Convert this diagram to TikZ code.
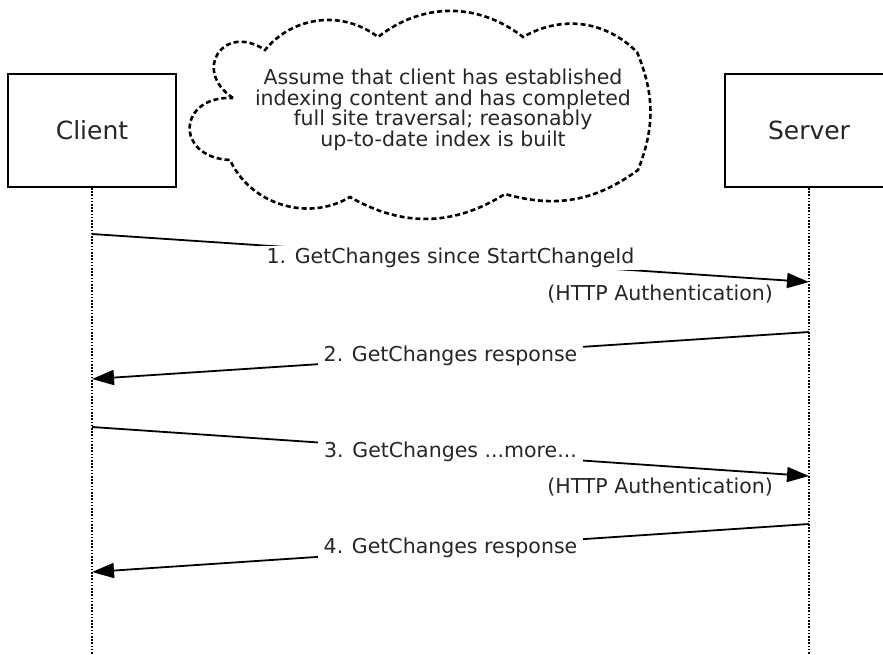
\documentclass[tikz,border=0pt]{standalone}
\usepackage{fontspec}
\setmainfont{DejaVu Sans}
\usetikzlibrary{arrows.meta}

\tikzset{
  actor/.style={draw, line width=1.8pt, minimum width=168pt, minimum height=113pt, font=\fontsize{25}{30}\selectfont, text=black!85},
  lifeline/.style={line width=1.1pt, dash pattern=on 1.6pt off 1.6pt},
  msg/.style={line width=1.8pt, -{Triangle[length=22pt,width=15pt]}},
  msglabel/.style={fill=white, inner xsep=6pt, inner ysep=2pt, font=\fontsize{20.5}{24}\selectfont, text=black!85},
  authlabel/.style={inner sep=0pt, font=\fontsize{20.5}{24}\selectfont, text=black!85},
  bubble/.style={line width=2.6pt, dash pattern=on 5pt off 3pt},
  note/.style={align=center, font=\fontsize{20.5}{20.5}\selectfont, text=black!85}
}

\begin{document}
\begin{tikzpicture}[x=1pt, y=-1pt]
			%%%%% START %%%%%
			
			\clip (0,0) rectangle (883,654);
			
			\node[actor] (client) at (92,130.5) {Client};
			\node[actor] (server) at (809,130.5) {Server};
			
			% the cloud, puff by puff
			\draw[bubble] (233,98) to[bend left=90, looseness=2.2] (265,50)
				to[bend left=44] (378,37)
				to[bend left=38] (523,37)
				to[bend left=37] (637,52)
				to[bend left=22] (638,170)
				to[bend left=26] (505,194)
				to[bend left=31] (350,197)
				to[bend left=48] (230,160)
				to[bend left=90, looseness=2.3] cycle;
			\node[note] (assume) at (443,110) {Assume that client has established\\indexing content and has completed\\full site traversal; reasonably\\up-to-date index is built};
			
			\coordinate (clientEnd) at (92,654);
			\coordinate (serverEnd) at (809,654);
			\draw[lifeline] (client.south) -- (clientEnd);
			\draw[lifeline] (server.south) -- (serverEnd);
			
			% points on the lifelines
			\coordinate (c1) at (92,234);
			\coordinate (s1) at (809,282);
			\coordinate (s2) at (809,332);
			\coordinate (c2) at (92,379);
			\coordinate (c3) at (92,427);
			\coordinate (s3) at (809,476);
			\coordinate (s4) at (809,524);
			\coordinate (c4) at (92,572);
			
			\draw[msg] (c1) -- node[msglabel] (m1) {1. GetChanges since StartChangeId} (s1);
			\node[authlabel, anchor=east] (auth1) at (773,294) {(HTTP Authentication)};
			
			\draw[msg] (s2) -- node[msglabel] (m2) {2. GetChanges response} (c2);
			
			\draw[msg] (c3) -- node[msglabel] (m3) {3. GetChanges ...more...} (s3);
			\node[authlabel, anchor=east] (auth3) at (773,487) {(HTTP Authentication)};
			
			\draw[msg] (s4) -- node[msglabel] (m4) {4. GetChanges response} (c4);
			
			%%%%% END %%%%%
\end{tikzpicture}
\end{document}
